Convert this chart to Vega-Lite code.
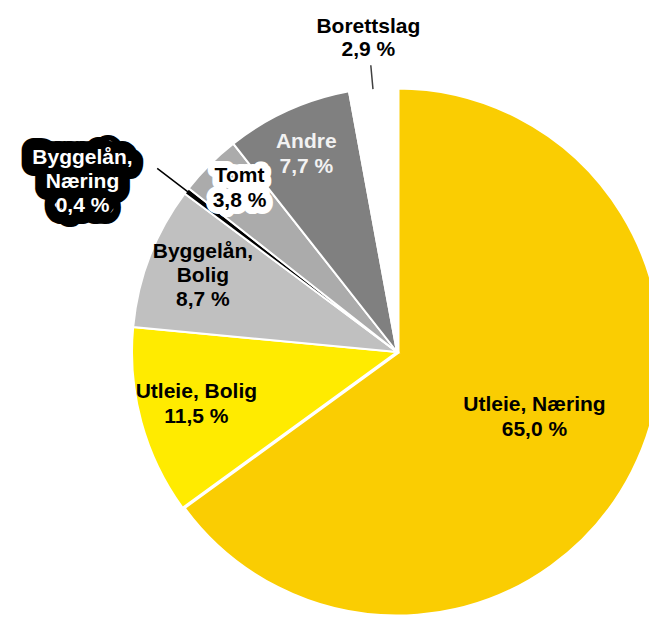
{
  "$schema": "https://vega.github.io/schema/vega-lite/v6.json",
  "width": 504,
  "height": 536,
  "autosize": {"type": "none"},
  "padding": {"left": 145, "top": 84, "right": 0, "bottom": 0},
  "background": "white",
  "config": {"view": {"stroke": null}},
  "data": {"values": [
    {"kategori": "Utleie, Næring", "andel": 65.0, "etikett": "Utleie, Næring\n65,0 %", "rekkefolge": 1},
    {"kategori": "Utleie, Bolig", "andel": 11.5, "etikett": "Utleie, Bolig\n11,5 %", "rekkefolge": 2},
    {"kategori": "Byggelån, Bolig", "andel": 8.7, "etikett": "Byggelån,\nBolig\n8,7 %", "rekkefolge": 3},
    {"kategori": "Byggelån, Næring", "andel": 0.4, "etikett": "Byggelån,\nNæring\n0,4 %", "rekkefolge": 4},
    {"kategori": "Tomt", "andel": 3.8, "etikett": "Tomt\n3,8 %", "rekkefolge": 5},
    {"kategori": "Andre", "andel": 7.7, "etikett": "Andre\n7,7 %", "rekkefolge": 6},
    {"kategori": "Borettslag", "andel": 2.9, "etikett": "Borettslag\n2,9 %", "rekkefolge": 7}
  ]},
  "encoding": {
    "theta": {"field": "andel", "type": "quantitative", "stack": true},
    "order": {"field": "rekkefolge", "type": "quantitative"}
  },
  "layer": [
    {
      "mark": {"type": "arc", "radius": 265, "stroke": "white"},
      "encoding": {
        "color": {
          "field": "kategori", "type": "nominal", "legend": null,
          "scale": {
            "domain": ["Utleie, Næring", "Utleie, Bolig", "Byggelån, Bolig", "Byggelån, Næring", "Tomt", "Andre", "Borettslag"],
            "range": ["#FACD02", "#FFEB00", "#C0C0C0", "#000000", "#ABABAB", "#808080", "#FFFFFF"]
          }
        },
        "strokeWidth": {"condition": {"test": "datum.kategori === 'Utleie, Næring'", "value": 5}, "value": 2}
      }
    },
    {
      "mark": {"type": "arc", "radius": 288, "radius2": 264, "padAngle": 1, "fill": "transparent", "fillOpacity": 0, "stroke": "#404040", "strokeWidth": 1.5},
      "encoding": {"strokeOpacity": {"condition": {"test": "datum.kategori === 'Borettslag'", "value": 1}, "value": 0}}
    },
    {
      "mark": {"type": "arc", "radius": 302, "radius2": 246, "padAngle": 1, "fill": "transparent", "fillOpacity": 0, "stroke": "#000000", "strokeWidth": 1.5},
      "encoding": {"strokeOpacity": {"condition": {"test": "datum.kategori === 'Byggelån, Næring'", "value": 1}, "value": 0}}
    },
    {
      "mark": {"type": "text", "radius": 352, "dx": -35, "dy": 20, "align": "center", "baseline": "middle", "lineBreak": "\n", "font": "Liberation Sans", "fontWeight": "bold", "fontSize": 21, "lineHeight": 24, "fill": "#000000", "stroke": "#000000", "strokeWidth": 24, "strokeJoin": "round"},
      "encoding": {"text": {"condition": {"test": "datum.kategori === 'Byggelån, Næring'", "field": "etikett"}, "value": ""}}
    },
    {
      "mark": {"type": "text", "radius": 352, "dx": -35, "dy": 20, "align": "center", "baseline": "middle", "lineBreak": "\n", "font": "Liberation Sans", "fontWeight": "bold", "fontSize": 21, "lineHeight": 24, "fill": "#FFFFFF"},
      "encoding": {"text": {"condition": {"test": "datum.kategori === 'Byggelån, Næring'", "field": "etikett"}, "value": ""}}
    },
    {
      "mark": {"type": "text", "radius": 227, "dx": 3, "dy": -15, "align": "center", "baseline": "middle", "lineBreak": "\n", "font": "Liberation Sans", "fontWeight": "bold", "fontSize": 21, "lineHeight": 25, "fill": "#FFFFFF", "stroke": "#FFFFFF", "strokeWidth": 14, "strokeJoin": "round"},
      "encoding": {"text": {"condition": {"test": "datum.kategori === 'Tomt'", "field": "etikett"}, "value": ""}}
    },
    {
      "mark": {"type": "text", "radius": 227, "dx": 3, "dy": -15, "align": "center", "baseline": "middle", "lineBreak": "\n", "font": "Liberation Sans", "fontWeight": "bold", "fontSize": 21, "lineHeight": 25, "fill": "#000000"},
      "encoding": {"text": {"condition": {"test": "datum.kategori === 'Tomt'", "field": "etikett"}, "value": ""}}
    },
    {
      "mark": {"type": "text", "radius": 152, "dx": 2, "dy": -16, "align": "center", "baseline": "middle", "lineBreak": "\n", "font": "Liberation Sans", "fontWeight": "bold", "fontSize": 21, "lineHeight": 25, "fill": "#000000"},
      "encoding": {"text": {"condition": {"test": "datum.kategori === 'Utleie, Næring'", "field": "etikett"}, "value": ""}}
    },
    {
      "mark": {"type": "text", "radius": 208, "dy": -15, "align": "center", "baseline": "middle", "lineBreak": "\n", "font": "Liberation Sans", "fontWeight": "bold", "fontSize": 21, "lineHeight": 25, "fill": "#000000"},
      "encoding": {"text": {"condition": {"test": "datum.kategori === 'Utleie, Bolig'", "field": "etikett"}, "value": ""}}
    },
    {
      "mark": {"type": "text", "radius": 208, "dy": -25, "align": "center", "baseline": "middle", "lineBreak": "\n", "font": "Liberation Sans", "fontWeight": "bold", "fontSize": 21, "lineHeight": 24, "fill": "#000000"},
      "encoding": {"text": {"condition": {"test": "datum.kategori === 'Byggelån, Bolig'", "field": "etikett"}, "value": ""}}
    },
    {
      "mark": {"type": "text", "radius": 218, "dx": -1, "dy": -11, "align": "center", "baseline": "middle", "lineBreak": "\n", "font": "Liberation Sans", "fontWeight": "bold", "fontSize": 21, "lineHeight": 25, "fill": "#F2F2F2"},
      "encoding": {"text": {"condition": {"test": "datum.kategori === 'Andre'", "field": "etikett"}, "value": ""}}
    },
    {
      "mark": {"type": "text", "radius": 315, "dy": -11, "align": "center", "baseline": "middle", "lineBreak": "\n", "font": "Liberation Sans", "fontWeight": "bold", "fontSize": 21, "lineHeight": 23, "fill": "#000000"},
      "encoding": {"text": {"condition": {"test": "datum.kategori === 'Borettslag'", "field": "etikett"}, "value": ""}}
    }
  ]
}
